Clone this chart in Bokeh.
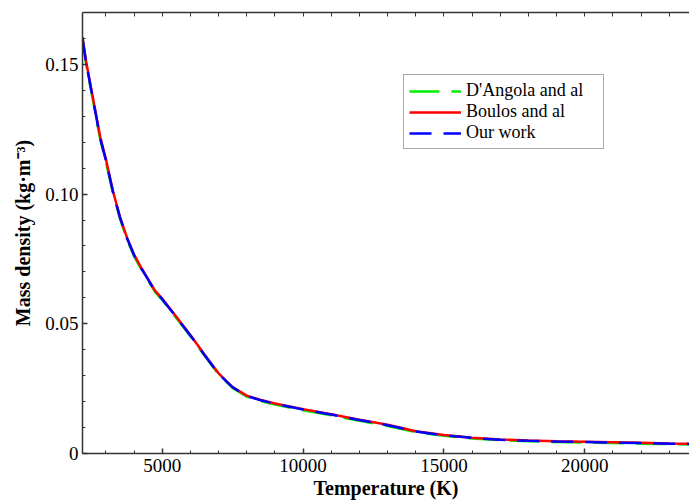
from bokeh.plotting import figure
from bokeh.models import (LinearAxis, FixedTicker, Range1d, Legend, LegendItem,
                          PrintfTickFormatter, NumeralTickFormatter)
from bokeh.embed import file_html
from bokeh.resources import INLINE

# ---- data ----
temperature = [2170, 2300, 2500, 2800, 3000, 3250, 3500, 3750, 4000, 4250, 4500,
               4750, 5000, 5500, 6000, 6500, 7000, 7500, 8000, 8500, 9000, 10000,
               11000, 12000, 13000, 14000, 15000, 16000, 17000, 18000, 19000,
               20000, 21000, 22000, 23000, 23720]
rho_dangola = [0.1595, 0.1500, 0.1385, 0.1210, 0.1125, 0.1005, 0.0905, 0.0825,
               0.0760, 0.0712, 0.0667, 0.0622, 0.0592, 0.0522, 0.0452, 0.0378,
               0.0305, 0.0253, 0.0219, 0.0202, 0.0189, 0.0167, 0.0147, 0.0126,
               0.0106, 0.0083, 0.0068, 0.0058, 0.0051, 0.0047, 0.0044, 0.0042,
               0.0040, 0.0038, 0.0036, 0.0035]
rho_boulos = [0.1605, 0.1510, 0.1395, 0.1220, 0.1135, 0.1012, 0.0912, 0.0832,
              0.0767, 0.0717, 0.0672, 0.0627, 0.0597, 0.0527, 0.0457, 0.0382,
              0.0309, 0.0256, 0.0223, 0.0206, 0.0193, 0.0171, 0.0151, 0.0130,
              0.0111, 0.0086, 0.0071, 0.0061, 0.0054, 0.0050, 0.0047, 0.0045,
              0.0043, 0.0041, 0.0039, 0.0038]
rho_ours = [0.1600, 0.1505, 0.1390, 0.1215, 0.1130, 0.1010, 0.0910, 0.0830,
            0.0765, 0.0715, 0.0670, 0.0625, 0.0595, 0.0525, 0.0455, 0.0380,
            0.0307, 0.0255, 0.0222, 0.0205, 0.0192, 0.0170, 0.0150, 0.0129,
            0.0109, 0.0085, 0.0070, 0.0060, 0.0053, 0.0049, 0.0046, 0.0044,
            0.0042, 0.0040, 0.0038, 0.0037]

x_major = [5000, 10000, 15000, 20000]
x_minor = list(range(3000, 24000, 1000))
y_major = [0, 0.05, 0.10, 0.15]
y_minor = [i / 100 for i in range(1, 17)]

FONT = "'Liberation Serif', 'Times New Roman', serif"

p = figure(width=689, height=504, x_range=Range1d(2170, 23720),
           y_range=Range1d(0, 0.17), output_backend="svg", toolbar_location=None,
           min_border_left=82, min_border_right=0, min_border_top=12,
           min_border_bottom=51)
p.outline_line_color = None
p.grid.visible = False
p.background_fill_color = "white"
p.border_fill_color = "white"


def style_axis(ax):
    ax.axis_line_color = "#333333"
    ax.axis_line_width = 1.5
    ax.major_tick_in = 5
    ax.major_tick_out = 0
    ax.minor_tick_in = 3
    ax.minor_tick_out = 0
    ax.major_tick_line_color = "#333333"
    ax.minor_tick_line_color = "#333333"
    ax.major_tick_line_width = 1.5
    ax.minor_tick_line_width = 1
    ax.major_label_text_font = FONT
    ax.major_label_text_font_size = "19px"
    ax.major_label_text_color = "black"
    ax.axis_label_text_font = FONT
    ax.axis_label_text_font_size = "20px"
    ax.axis_label_text_font_style = "bold"
    ax.axis_label_text_color = "black"


xa = p.xaxis[0]
xa.ticker = FixedTicker(ticks=x_major, minor_ticks=x_minor)
xa.formatter = NumeralTickFormatter(format="0")
xa.axis_label = "Temperature (K)"
style_axis(xa)
xa.major_label_standoff = 5
xa.axis_label_standoff = 2

ya = p.yaxis[0]
ya.ticker = FixedTicker(ticks=y_major, minor_ticks=y_minor)
ya.formatter = PrintfTickFormatter(format="%.2f")
ya.major_label_overrides = {0: "0"}
ya.axis_label = "Mass density (kg·m⁻³)"
style_axis(ya)
ya.major_label_standoff = 4
ya.axis_label_standoff = 8

# top frame line with inward ticks only (no labels)
top = LinearAxis(ticker=FixedTicker(ticks=[], minor_ticks=sorted(x_minor)))
style_axis(top)
top.minor_tick_in = 4
top.major_label_standoff = 0
p.add_layout(top, "above")

g = p.line(temperature, rho_dangola, line_color="#00ee00", line_width=2.5,
           line_dash="30 12")
r = p.line(temperature, rho_boulos, line_color="#ff0000", line_width=2.5)
b = p.line(temperature, rho_ours, line_color="#0000ff", line_width=2.5,
           line_dash="22 12")

legend = Legend(items=[LegendItem(label="D'Angola and al", renderers=[g]),
                       LegendItem(label="Boulos and al", renderers=[r]),
                       LegendItem(label="Our work", renderers=[b])],
                location=(321, 304), glyph_width=52, glyph_height=16,
                label_height=16, label_width=132, spacing=-5, padding=5,
                margin=0, label_standoff=5, border_line_color="#555555",
                border_line_width=1.5, label_text_font=FONT,
                label_text_font_size="18px", label_text_color="black",
                background_fill_color="white", background_fill_alpha=1)
p.add_layout(legend)

open("out.html", "w").write(file_html(p, INLINE))
